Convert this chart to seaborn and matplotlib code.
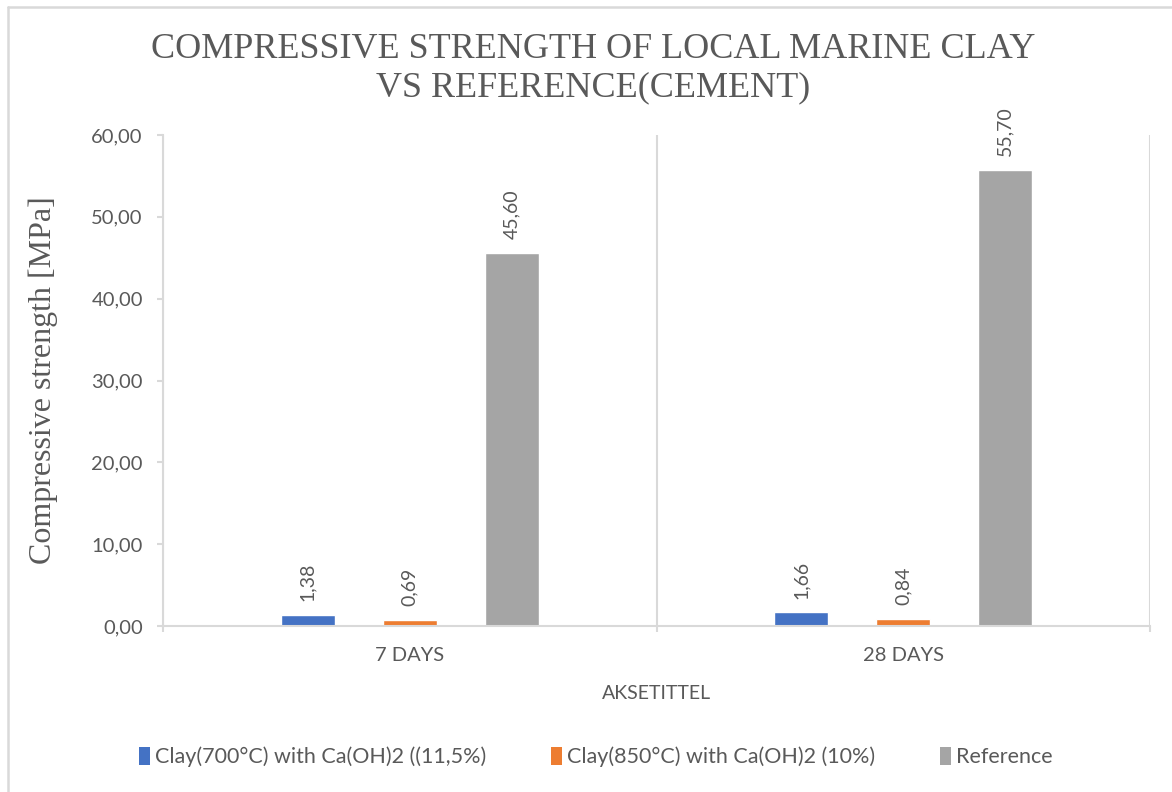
import matplotlib
matplotlib.use("Agg")
import matplotlib.pyplot as plt
from matplotlib.ticker import FuncFormatter, FixedLocator
from matplotlib.patches import Patch
from matplotlib.lines import Line2D
import seaborn as sns
import pandas as pd

# Data
days = ["7 DAYS", "28 DAYS"]
series = [
    "Clay(700°C) with Ca(OH)2 ((11,5%)",
    "Clay(850°C) with Ca(OH)2 (10%)",
    "Reference",
]
clay700 = [1.38, 1.66]
clay850 = [0.69, 0.84]
reference = [45.60, 55.70]
colors = ["#4472C4", "#ED7D31", "#A5A5A5"]

text_col = "#595959"
line_col = "#D9D9D9"

rows = []
for name, vals in zip(series, [clay700, clay850, reference]):
    for d, v in zip(days, vals):
        rows.append({"day": d, "series": name, "value": v})
df = pd.DataFrame(rows)

sns.set_theme(style="white")
plt.rcParams["font.family"] = ["Lato", "DejaVu Sans"]

fig = plt.figure(figsize=(11.72, 7.92), dpi=100)
ax = fig.add_axes([163 / 1172, 1 - 626 / 792, (1150 - 163) / 1172, (626 - 135) / 792])

sns.barplot(
    data=df, x="day", y="value", hue="series", order=days, hue_order=series,
    palette=colors, width=0.62, gap=0.47, ax=ax, legend=False,
    saturation=1, errorbar=None,
)

def comma(v, pos=None):
    return f"{v:.2f}".replace(".", ",")

for cont in ax.containers:
    ax.bar_label(cont, labels=[comma(b.get_height()) for b in cont],
                 rotation=90, padding=10, color=text_col, fontsize=14)

ax.set_xlim(-0.5, 1.5)
ax.set_ylim(0, 60)
ax.yaxis.set_major_locator(FixedLocator([0, 10, 20, 30, 40, 50, 60]))
ax.yaxis.set_major_formatter(FuncFormatter(comma))

# Category separators drawn as vertical gridlines on minor ticks
ax.xaxis.set_minor_locator(FixedLocator([-0.5, 0.5, 1.5]))
ax.grid(False)
ax.grid(True, which="minor", axis="x", color=line_col, linewidth=1.5)
ax.tick_params(axis="x", which="minor", direction="out", length=4.5,
               width=1.5, color=line_col, bottom=True)
ax.tick_params(axis="x", which="major", length=0, pad=15,
               labelsize=14.5, labelcolor=text_col)
ax.tick_params(axis="y", which="major", direction="out", length=4.5,
               width=1.5, color=line_col, left=True, pad=10,
               labelsize=14.5, labelcolor=text_col)

for side in ["top", "right"]:
    ax.spines[side].set_visible(False)
for side in ["left", "bottom"]:
    ax.spines[side].set_color(line_col)
    ax.spines[side].set_linewidth(1.5)

ax.set_xlabel("AKSETITTEL", color=text_col, fontsize=14, labelpad=15)
ax.set_ylabel("Compressive strength [MPa]", color=text_col, fontsize=23,
              family="Liberation Serif", labelpad=24)

fig.suptitle("COMPRESSIVE STRENGTH OF LOCAL MARINE CLAY\nVS REFERENCE(CEMENT)",
             x=593 / 1172, y=1 - 33 / 792, va="top", fontsize=26,
             family="Liberation Serif", color=text_col, linespacing=1.2)

handles = [Patch(facecolor=c, edgecolor="none") for c in colors]
fig.legend(handles, series, loc="center", bbox_to_anchor=(596 / 1172, 1 - 757 / 792),
           ncol=3, frameon=False, fontsize=15.5, labelcolor=text_col,
           handlelength=0.5, handleheight=0.9, handletextpad=0.25,
           columnspacing=3.0)

# Chart area border
fig.add_artist(Line2D([8 / 1172, 8 / 1172], [0, 1 - 7 / 792],
                      transform=fig.transFigure, color=line_col, linewidth=1.8))
fig.add_artist(Line2D([8 / 1172, 1], [1 - 7 / 792, 1 - 7 / 792],
                      transform=fig.transFigure, color=line_col, linewidth=1.8))

fig.savefig("out.png", dpi=100)
